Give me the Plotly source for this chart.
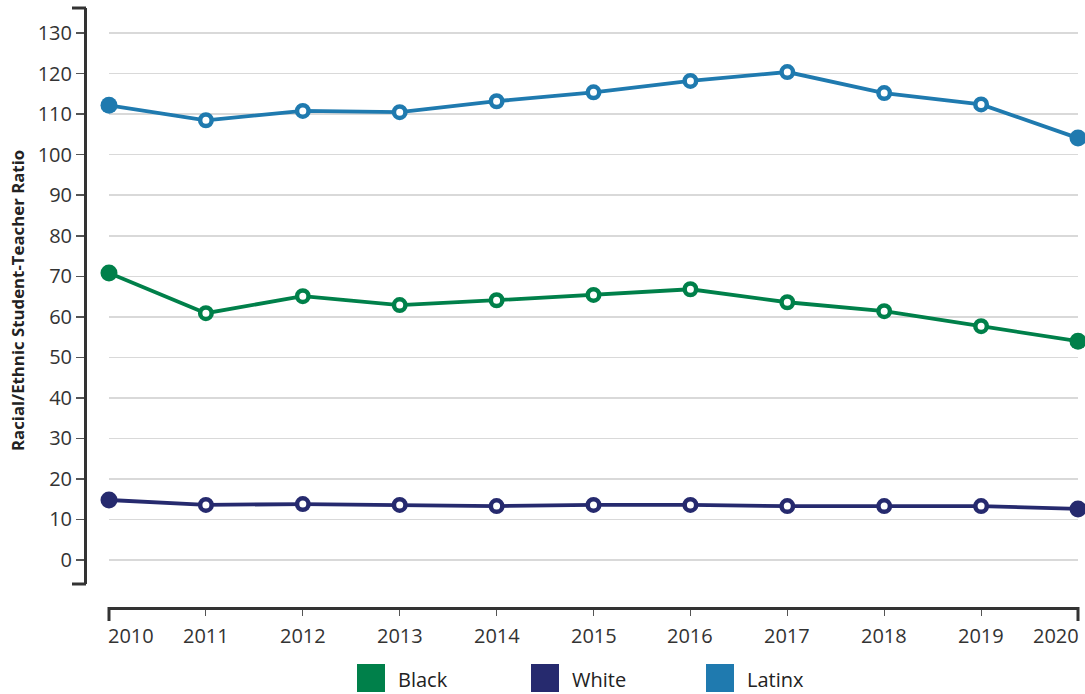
import plotly.graph_objects as go

years = [2010, 2011, 2012, 2013, 2014, 2015, 2016, 2017, 2018, 2019, 2020]
black = [70.8, 60.9, 65.1, 62.9, 64.1, 65.4, 66.8, 63.6, 61.4, 57.7, 54.0]
white = [14.8, 13.6, 13.8, 13.6, 13.3, 13.6, 13.6, 13.3, 13.3, 13.3, 12.6]
latinx = [112.2, 108.5, 110.8, 110.5, 113.2, 115.4, 118.2, 120.4, 115.2, 112.4, 104.1]
year_labels = [str(y) for y in years]

series_names = ["Black", "White", "Latinx"]
series_values = [black, white, latinx]
series_colors = ["#00804A", "#262A6E", "#1F7AAF"]

W, H = 1085, 694
FONT = "Open Sans"
AXIS_COLOR = "#333333"

def px_x(x):
    return x / W

def px_y(y):
    return 1 - y / H

fig = go.Figure()
n = len(years)
for name, vals, col in zip(series_names, series_values, series_colors):
    sizes = [17] + [11.5] * (n - 2) + [17]
    fills = [col] + ["white"] * (n - 2) + [col]
    lw = [0] + [4.5] * (n - 2) + [0]
    fig.add_trace(go.Scatter(
        x=years, y=vals, name=name, mode="lines+markers",
        line=dict(color=col, width=3.8),
        marker=dict(size=sizes, color=fills, opacity=1,
                    line=dict(color=col, width=lw)),
        cliponaxis=False, showlegend=False, hoverinfo="skip",
    ))

shapes = []
# y-axis end caps
for yy in (8, 584):
    shapes.append(dict(type="line", xref="paper", yref="paper",
                       x0=px_x(72), x1=px_x(86), y0=px_y(yy), y1=px_y(yy),
                       line=dict(color=AXIS_COLOR, width=3)))
# x-axis end caps
for xx in (109, 1078):
    shapes.append(dict(type="line", xref="paper", yref="paper",
                       x0=px_x(xx), x1=px_x(xx), y0=px_y(607), y1=px_y(621),
                       line=dict(color=AXIS_COLOR, width=3)))

annotations = [dict(
    text="<b>Racial/Ethnic Student-Teacher Ratio</b>", xref="paper", yref="paper",
    x=px_x(18), y=px_y(301), textangle=-90, showarrow=False,
    xanchor="center", yanchor="middle",
    font=dict(family=FONT, size=16.8, color="#222222"))]

# x tick labels (first/last inset like the reference)
for i, (yr, lab) in enumerate(zip(years, year_labels)):
    anchor = "left" if i == 0 else ("right" if i == n - 1 else "center")
    shift = -3 if i == 0 else (3 if i == n - 1 else 0)
    annotations.append(dict(text=lab, xref="x", yref="paper", x=yr, y=px_y(635),
                            xanchor=anchor, yanchor="middle", xshift=shift,
                            showarrow=False,
                            font=dict(family=FONT, size=20, color="#333333")))

# manual legend
leg_x = [357, 531, 706]
for name, col, lx in zip(series_names, series_colors, leg_x):
    shapes.append(dict(type="rect", xref="paper", yref="paper",
                       x0=px_x(lx), x1=px_x(lx + 28), y0=px_y(664), y1=px_y(692),
                       fillcolor=col, line=dict(width=0)))
    annotations.append(dict(text=name, xref="paper", yref="paper",
                            x=px_x(lx + 39), y=px_y(679), xanchor="left", yanchor="middle",
                            showarrow=False, font=dict(family=FONT, size=20, color="#222222")))

fig.update_layout(
    width=W, height=H, autosize=False,
    margin=dict(l=0, r=0, t=0, b=0, autoexpand=False),
    paper_bgcolor="white", plot_bgcolor="white",
    font=dict(family=FONT, size=20, color="#333333"),
    xaxis=dict(domain=[px_x(109), px_x(1078)], range=[2010, 2020],
               anchor="free", position=px_y(608),
               tickmode="array", tickvals=years, showticklabels=False,
               showgrid=False, zeroline=False,
               showline=True, linecolor=AXIS_COLOR, linewidth=3,
               ticks="outside", ticklen=6, tickwidth=1, tickcolor="#555555"),
    yaxis=dict(domain=[px_y(584), px_y(8)], range=[-5.92, 136.2],
               anchor="free", position=px_x(85),
               tick0=0, dtick=10, showgrid=True, gridcolor="#d9d9d9", gridwidth=1.5,
               zeroline=False, showline=True, linecolor=AXIS_COLOR, linewidth=3,
               ticks="outside", ticklen=8, tickwidth=1.5, tickcolor="#555555",
               tickfont=dict(family=FONT, size=20, color="#333333")),
    shapes=shapes, annotations=annotations,
)

fig.write_html("out.html", config={"displayModeBar": False, "staticPlot": True},
               post_script="document.body.style.margin='0';document.body.style.overflow='hidden';")
